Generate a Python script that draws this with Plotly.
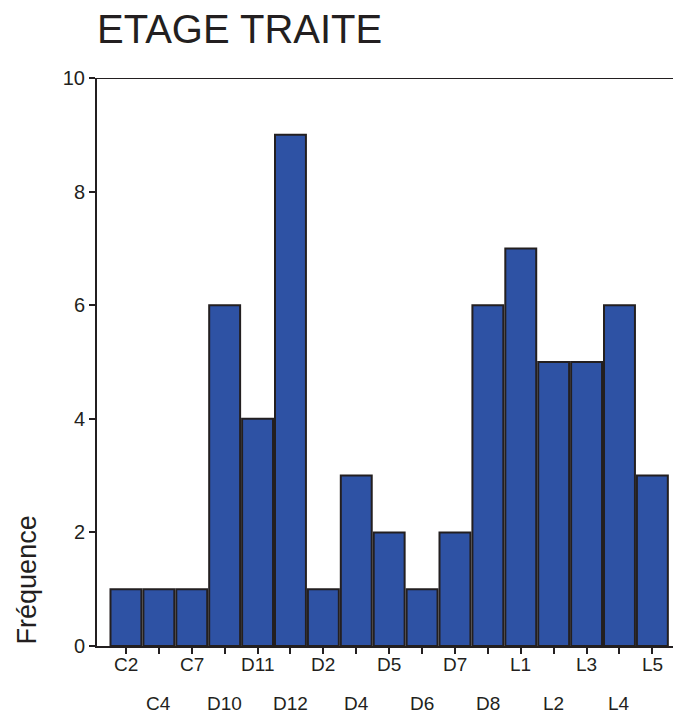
import plotly.graph_objects as go

etages = ['C2', 'C4', 'C7', 'D10', 'D11', 'D12', 'D2', 'D4', 'D5',
          'D6', 'D7', 'D8', 'L1', 'L2', 'L3', 'L4', 'L5']
frequences = [1, 1, 1, 6, 4, 9, 1, 3, 2, 1, 2, 6, 7, 5, 5, 6, 3]
y_ticks = [0, 2, 4, 6, 8, 10]

dark = '#231F20'
font_family = 'Liberation Sans, Arial, sans-serif'

fig = go.Figure()

fig.add_trace(go.Bar(
    x=etages,
    y=frequences,
    marker=dict(color='#2E52A4', line=dict(color=dark, width=2)),
    hovertemplate='%{x}: %{y}<extra></extra>',
))

# tick labels on two alternating rows
for i, etage in enumerate(etages):
    fig.add_annotation(
        x=etage, xref='x', y=0, yref='paper',
        text=etage, showarrow=False, borderpad=0,
        xanchor='center', yanchor='top',
        yshift=-7 if i % 2 == 0 else -46,
        font=dict(size=19, color=dark, family=font_family),
    )

fig.add_annotation(
    x=-0.12, xref='paper', y=0, yref='paper',
    text='Fréquence', textangle=-90, showarrow=False,
    xanchor='center', yanchor='bottom',
    font=dict(size=27, color=dark, family=font_family),
)

# top frame line and small left extension of the baseline
fig.add_shape(type='line', xref='paper', yref='y', x0=0, x1=1, y0=10, y1=10,
              line=dict(color=dark, width=2))
fig.add_shape(type='line', xref='paper', yref='y', x0=-0.009, x1=0, y0=0, y1=0,
              line=dict(color=dark, width=2))

# page body has an 8px margin, so the figure is shrunk to fit the window
fig.update_layout(
    width=673,
    height=707,
    margin=dict(l=89, r=0, t=70, b=69),
    plot_bgcolor='white',
    paper_bgcolor='white',
    showlegend=False,
    bargap=0.06,
    title=dict(
        text='ETAGE TRAITE',
        xref='paper', x=0, xanchor='left',
        yref='container', y=0.971, yanchor='middle',
        font=dict(size=40, color=dark, family=font_family),
    ),
    xaxis=dict(
        range=[-0.88, 16.87],
        showline=True, linecolor=dark, linewidth=2,
        ticks='outside', ticklen=6, tickwidth=2, tickcolor=dark,
        showticklabels=False, showgrid=False, zeroline=False,
    ),
    yaxis=dict(
        range=[0, 10],
        tickvals=y_ticks,
        showline=True, linecolor=dark, linewidth=2,
        ticks='outside', ticklen=6, tickwidth=2, tickcolor=dark,
        showgrid=False, zeroline=False,
        tickfont=dict(size=20, color=dark, family=font_family),
    ),
)

fig.write_html('out.html')
